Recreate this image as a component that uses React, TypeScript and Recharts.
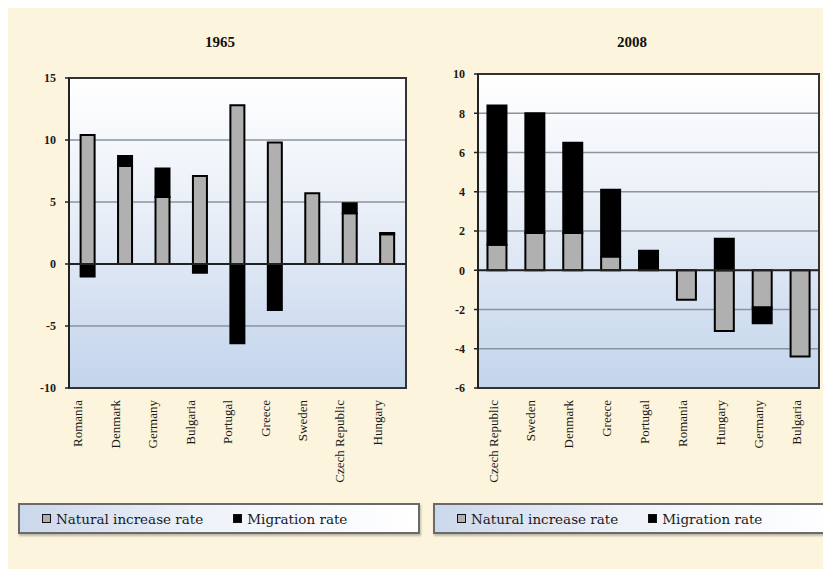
import React from "react";
import { BarChart, Bar, XAxis, YAxis, CartesianGrid, ReferenceLine, ReferenceArea } from "recharts";

// 1965 — crude rates per 1000 population
const countries1965 = ["Romania", "Denmark", "Germany", "Bulgaria", "Portugal", "Greece", "Sweden", "Czech Republic", "Hungary"];
const natural1965 = [10.4, 7.9, 5.4, 7.1, 12.8, 9.8, 5.7, 4.1, 2.4];
const migration1965 = [-1.0, 0.8, 2.3, -0.7, -6.4, -3.7, 0, 0.8, 0.1];
const ticks1965 = [-10, -5, 0, 5, 10, 15];

// 2008
const countries2008 = ["Czech Republic", "Sweden", "Denmark", "Greece", "Portugal", "Romania", "Hungary", "Germany", "Bulgaria"];
const natural2008 = [1.3, 1.9, 1.9, 0.7, 0, -1.5, -3.1, -1.9, -4.4];
const migration2008 = [7.1, 6.1, 4.6, 3.4, 1.0, 0, 1.6, -0.8, 0];
const ticks2008 = [-6, -4, -2, 0, 2, 4, 6, 8, 10];

const SERIF = '"Liberation Serif", "Times New Roman", serif';
const CREAM = "#fcf4dc";

function buildRows(names: string[], nat: number[], mig: number[]) {
  return names.map((name, i) => ({ name, natural: nat[i], migration: mig[i] }));
}

function CategoryTick(props: any) {
  const { x, y, payload, shift } = props;
  return (
    <g transform={`translate(${x + shift},${y + 12})`}>
      <text transform="rotate(-90)" textAnchor="end" dy="0.35em" fontFamily={SERIF} fontSize={13} fill="#1a1a1a">
        {payload.value}
      </text>
    </g>
  );
}

function Legend({ left, width }: { left: number; width: number }) {
  const sq = (fill: string) => ({
    display: "inline-block",
    width: 7,
    height: 7,
    background: fill,
    border: "1.5px solid #111",
    marginRight: 5,
    verticalAlign: "middle",
  });
  return (
    <div
      style={{
        position: "absolute",
        left,
        top: 495,
        width,
        height: 31,
        border: "2px solid #6a6a6a",
        background: "linear-gradient(to right, #cbd7eb, #eef2f9 45%, #ffffff)",
        boxShadow: "1px 2px 2px rgba(0,0,0,0.25)",
        fontFamily: '"DejaVu Serif", serif',
        fontSize: 13.5,
        color: "#1a1a1a",
        display: "flex",
        alignItems: "center",
        paddingLeft: 22,
        boxSizing: "border-box",
        whiteSpace: "nowrap",
      }}
    >
      <span style={sq("#b0b0b0")} />
      <span style={{ marginRight: 30 }}>Natural increase rate</span>
      <span style={sq("#000")} />
      <span>Migration rate</span>
    </div>
  );
}

function Panel(props: {
  title: string;
  titleX: number;
  left: number;
  width: number;
  top: number;
  right: number;
  yWidth: number;
  shift: number;
  gap: string;
  data: any[];
  ticks: number[];
}) {
  const { data, ticks } = props;
  const lo = ticks[0];
  const hi = ticks[ticks.length - 1];
  return (
    <>
      <div
        style={{
          position: "absolute",
          left: props.titleX - 40,
          top: 26,
          width: 80,
          textAlign: "center",
          fontFamily: SERIF,
          fontWeight: "bold",
          fontSize: 15,
          color: "#111",
        }}
      >
        {props.title}
      </div>
      <div style={{ position: "absolute", left: props.left, top: 0 }}>
        <BarChart
          width={props.width}
          height={480}
          data={data}
          stackOffset="sign"
          barCategoryGap={props.gap}
          margin={{ top: props.top, right: props.right, left: 0, bottom: 0 }}
        >
          <CartesianGrid vertical={false} stroke="#8a939e" strokeWidth={1.5} fill="url(#plotFill)" fillOpacity={1} />
          <XAxis
            dataKey="name"
            interval={0}
            height={100}
            axisLine={false}
            tickLine={false}
            tickSize={0}
            tickMargin={0}
            tick={<CategoryTick shift={props.shift} />}
          />
          <YAxis
            type="number"
            domain={[lo, hi]}
            ticks={ticks}
            interval={0}
            width={props.yWidth}
            axisLine={{ stroke: "#222", strokeWidth: 2 }}
            tickLine={{ stroke: "#222", strokeWidth: 1.5 }}
            tickSize={4}
            tickMargin={9}
            tick={{ fill: "#1a1a1a", fontSize: 12, fontFamily: SERIF, fontWeight: "bold" }}
          />
          <ReferenceLine y={0} stroke="#222" strokeWidth={2} />
          <Bar dataKey="natural" stackId="a" fill="#b0b0b0" stroke="#000" strokeWidth={2} isAnimationActive={false} />
          <Bar dataKey="migration" stackId="a" fill="#000" stroke="#000" strokeWidth={2} isAnimationActive={false} />
          <ReferenceArea y1={lo} y2={hi} fill="none" stroke="#333" strokeWidth={2} ifOverflow="visible" />
        </BarChart>
      </div>
    </>
  );
}

export default function App() {
  const rows1965 = buildRows(countries1965, natural1965, migration1965);
  const rows2008 = buildRows(countries2008, natural2008, migration2008);
  return (
    <div style={{ position: "relative", width: 823, height: 561, background: CREAM, overflow: "hidden" }}>
      <svg width={0} height={0} style={{ position: "absolute" }}>
        <defs>
          <linearGradient id="plotFill" x1="0" y1="0" x2="0" y2="1">
            <stop offset="0%" stopColor="#ffffff" />
            <stop offset="45%" stopColor="#e8eef7" />
            <stop offset="100%" stopColor="#c3d4ec" />
          </linearGradient>
        </defs>
      </svg>
      <Panel
        title="1965"
        titleX={212}
        left={0}
        width={420}
        top={70}
        right={22}
        yWidth={61}
        shift={-10}
        gap="31%"
        data={rows1965}
        ticks={ticks1965}
      />
      <Panel
        title="2008"
        titleX={624}
        left={415}
        width={408}
        top={66}
        right={12}
        yWidth={55}
        shift={-4}
        gap="25%"
        data={rows2008}
        ticks={ticks2008}
      />
      <Legend left={10} width={402} />
      <Legend left={425} width={410} />
    </div>
  );
}
